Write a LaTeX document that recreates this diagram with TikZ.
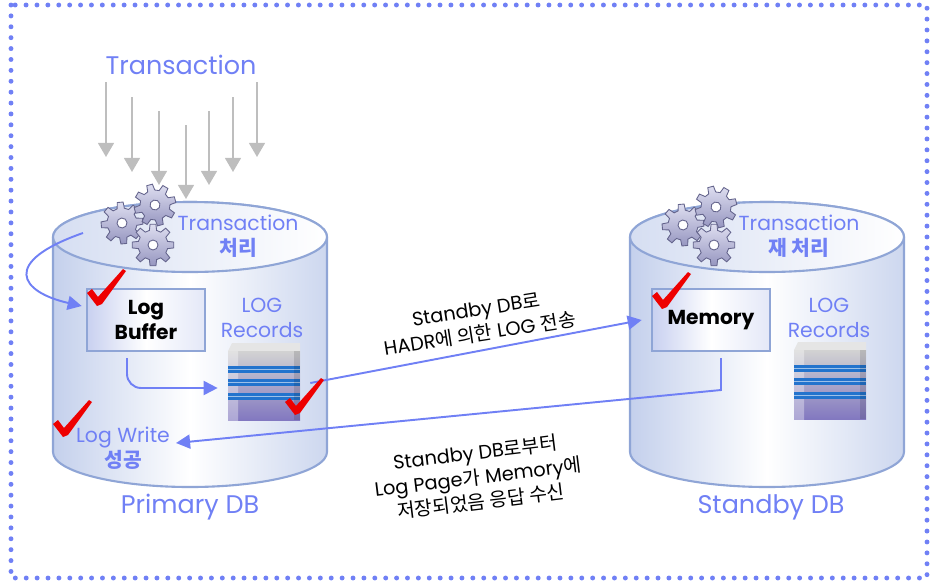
\documentclass[tikz,border=0pt]{standalone}
\usepackage{fontspec}
\setmainfont{Poppins}
\newfontfamily\kr{Noto Sans CJK KR}
\usetikzlibrary{arrows.meta,positioning}

\definecolor{lblue}{RGB}{112,128,245}
\definecolor{cylline}{RGB}{143,165,214}
\definecolor{cylfill}{RGB}{196,208,236}
\definecolor{boxfill}{RGB}{200,208,240}
\definecolor{tickred}{RGB}{238,0,0}
\definecolor{feedgray}{RGB}{190,190,190}
\definecolor{gearlight}{RGB}{222,222,240}
\definecolor{geardark}{RGB}{150,150,192}
\definecolor{gearline}{RGB}{100,100,140}
\definecolor{stripe}{RGB}{35,115,205}
\definecolor{blockbase}{RGB}{130,120,192}

% database drum, #1 = centre x
\newcommand{\drum}[1]{%
  \path[drumbody] (#1-137,237) -- (#1-137,452) arc (180:0:137 and 35)
    -- (#1+137,237) arc (0:-180:137 and 35) -- cycle;
  \path[drumtop] (#1,237) ellipse (137 and 35);}

% cog wheel at (#1,#2), turned by #3
\newcommand{\cog}[3]{%
  \begin{scope}[shift={(#1,#2)},rotate=#3]
    \path[cogbody] (-14:15) \foreach \a in {0,45,...,315}{
      -- (\a-14:15) -- (\a-8:21) -- (\a+8:21) -- (\a+14:15)} -- cycle;
    \path[coghole] (0,0) circle (5);
  \end{scope}}

% storage block centred at (#1,#2)
\newcommand{\block}[2]{%
  \begin{scope}[shift={(#1,#2)}]
    \fill[gray!20] (-32,-40) -- (36,-40) -- (36,-32) -- (-36,-32) -- cycle;
    \shade[top color=gray!35, bottom color=blockbase] (-36,-32) rectangle (36,37);
    \shade[left color=white, right color=white, opacity=0.35] (-36,-32) rectangle (-26,37);
    \foreach \s in {-17,-4,10} {
      \fill[stripe] (-36,\s) rectangle (36,\s+7);
      \fill[stripe!45] (-36,\s+2.5) rectangle (36,\s+4);
    }
    \fill[black, opacity=0.12] (30,-32) rectangle (36,37);
  \end{scope}}

% red tick, bottom point at (#1,#2)
\newcommand{\tick}[2]{%
  \fill[tickred, shift={(#1,#2)}] (0,2) -- (-10,-11) -- (-5,-15) -- (1,-7)
    -- (26,-35) -- (29,-33) -- (5,0) -- cycle;}

\begin{document}
\begin{tikzpicture}[x=0.02cm,y=-0.02cm]
    \tikzstyle{drumbody} = [draw=cylline,line width=1.2pt,left color=cylfill,right color=cylfill!85,middle color=white]
    \tikzstyle{drumtop} = [draw=cylline,line width=1.2pt,left color=cylfill!70,right color=white]
    \tikzstyle{cogbody} = [draw=gearline,line width=0.5pt,top color=gearlight,bottom color=geardark]
    \tikzstyle{coghole} = [draw=gearline,line width=0.5pt,fill=white]
    \tikzstyle{feed} = [feedgray,line width=1.1pt,-{Triangle[width=9pt,length=8pt]}]
    \tikzstyle{flow} = [lblue,line width=1.1pt,-{Triangle[width=8pt,length=8pt]}]
    \tikzstyle{frame} = [draw=lblue,line width=2.8pt,line cap=round,dash pattern=on 0pt off 6.2pt]
    \tikzstyle{title} = [text=lblue,font=\fontsize{14.5}{17}\selectfont]
    \tikzstyle{bluetext} = [text=lblue,align=center,font=\fontsize{11.6}{14}\selectfont]
    \tikzstyle{buffer} = [draw=cylline,line width=1.2pt,left color=boxfill,right color=boxfill!50,middle color=white,minimum width=2.37cm,minimum height=1.24cm,align=center,font=\bfseries\fontsize{11.5}{14}\selectfont]
    \tikzstyle{note} = [align=center,font=\fontsize{11}{14}\selectfont]
    \tikzstyle{blockbox} = [minimum width=1.44cm,minimum height=1.5cm,inner sep=0pt]

    \useasboundingbox (0,0) rectangle (936,582);
    \draw[frame] (11,5) rectangle (927,578);

    % incoming transactions
    \node[title] (trans) at (181,65) {Transaction};
    \foreach \x/\t/\h [count=\i] in {106/82/157,132/97/172,159/111/185,186/125/199,209/111/185,233/97/172,257/82/157} {
        \coordinate (in\i) at (\x,\t);
        \coordinate (to\i) at (\x,\h);
        \draw[feed] (in\i) -- (to\i);
    }

    % primary side
    \drum{190}
    \cog{122}{223}{5}
    \cog{155}{205}{15}
    \cog{153}{245}{0}
    \node[bluetext] (proc) at (238,236) {Transaction\\{\kr\bfseries 처리}};
    \node[buffer] (buf) at (146,320) {Log\\Buffer};
    \node[bluetext] (rec1) at (262,318) {LOG\\Records};
    \node[blockbox] (blk1) at (264,383) {};
    \block{264}{383}
    \node[bluetext] (lw) at (123,448) {Log Write\\{\kr\bfseries 성공}};
    \node[title] (pdb) at (190,507) {Primary DB};

    % standby side
    \drum{767}
    \cog{683}{225}{5}
    \cog{716}{207}{15}
    \cog{714}{245}{0}
    \node[bluetext] (reproc) at (799,236) {Transaction\\{\kr\bfseries 재 처리}};
    \node[buffer] (mem) at (711,320) {Memory};
    \node[bluetext] (rec2) at (829,318) {LOG\\Records};
    \node[blockbox] (blk2) at (830,382) {};
    \block{830}{382}
    \node[title] (sdb) at (771,507) {Standby DB};

    % log flow
    \coordinate (loop) at (83,233);
    \draw[flow] (loop) .. controls (0,262) and (20,292) .. ([shift={(-0.08cm,0.28cm)}]buf.west);
    \draw[flow,rounded corners=8pt] ([shift={(-0.38cm,-0.12cm)}]buf.south) |- ([shift={(-0.2cm,-0.1cm)}]blk1.west);
    \draw[flow] ([xshift=0.2cm]blk1.east) -- ([xshift=-0.18cm]mem.west);
    \coordinate (ack) at (721,358);
    \draw[flow] (ack) -- ++(0,32) -- ([yshift=0.1cm]lw.east);

    \node[note,rotate=9] (send) at (478,322) {Standby DB{\kr 로}\\HADR{\kr 에 의한} LOG {\kr 전송}};
    \node[note,rotate=7] (reply) at (478,477) {Standby DB{\kr 로부터}\\Log Page{\kr 가} Memory{\kr 에}\\{\kr 저장되었음 응답 수신}};

    \tick{97}{304}
    \tick{295}{413}
    \tick{63}{435}
    \tick{662}{307}
\end{tikzpicture}
\end{document}
